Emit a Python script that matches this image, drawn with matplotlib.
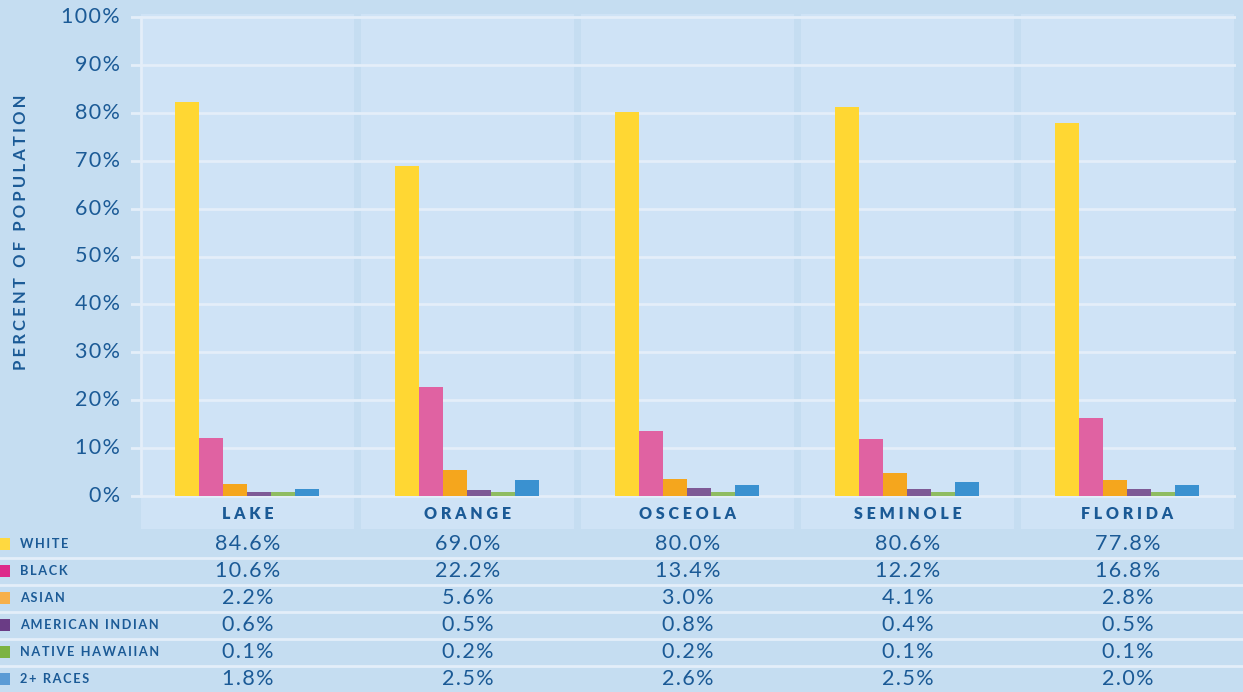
import matplotlib
matplotlib.use("Agg")
import matplotlib.pyplot as plt
from matplotlib.patches import Rectangle

# data
counties = ["LAKE", "ORANGE", "OSCEOLA", "SEMINOLE", "FLORIDA"]
races = ["WHITE", "BLACK", "ASIAN", "AMERICAN INDIAN", "NATIVE HAWAIIAN", "2+ RACES"]

# bar heights as drawn (percent)
white_bar = [82.3, 68.9, 80.2, 81.2, 77.9]
black_bar = [12.1, 22.8, 13.6, 11.9, 16.3]
asian_bar = [2.5, 5.4, 3.5, 4.8, 3.3]
amind_bar = [0.8, 1.2, 1.7, 1.5, 1.5]
hawaii_bar = [0.8, 0.8, 0.8, 0.8, 0.8]
multi_bar = [1.5, 3.3, 2.3, 2.9, 2.3]

# table values
white_tbl = ["84.6%", "69.0%", "80.0%", "80.6%", "77.8%"]
black_tbl = ["10.6%", "22.2%", "13.4%", "12.2%", "16.8%"]
asian_tbl = ["2.2%", "5.6%", "3.0%", "4.1%", "2.8%"]
amind_tbl = ["0.6%", "0.5%", "0.8%", "0.4%", "0.5%"]
hawaii_tbl = ["0.1%", "0.2%", "0.2%", "0.1%", "0.1%"]
multi_tbl = ["1.8%", "2.5%", "2.6%", "2.5%", "2.0%"]

yticks = list(range(0, 101, 10))

bars = [white_bar, black_bar, asian_bar, amind_bar, hawaii_bar, multi_bar]
tables = [white_tbl, black_tbl, asian_tbl, amind_tbl, hawaii_tbl, multi_tbl]
bar_colors = ["#ffd733", "#e062a2", "#f5a61d", "#7e5a96", "#8fbc62", "#3a91d0"]
key_colors = ["#ffd940", "#dd2a8a", "#f7b04a", "#6a3c85", "#7cb342", "#5b9bd5"]

BG = "#c5ddf1"
PANEL = "#cfe3f6"
GRID = "#e4eef9"
TXT = "#1b5a96"
FONT = ["Lato", "DejaVu Sans"]

W, H = 1243, 692
fig = plt.figure(figsize=(W / 100, H / 100), dpi=100, facecolor=BG)


def fx(px):
    return px / W


def fy(py):
    return 1 - py / H


def spaced(s, sp="\u200a"):
    return sp.join(s)


# axes placed in pixel terms
left, right, top, bottom = 131, 1236, 14, 529
ax = fig.add_axes([fx(left), fy(bottom), fx(right - left), (bottom - top) / H])
ax.set_facecolor(BG)
ppu = 4.79  # pixels per percent
x0, xs = 247.5, 220.0
ax.set_xlim((left - x0) / xs, (right - x0) / xs)
ax.set_ylim(-(bottom - 496) / ppu, 100 + (496 - 17 - 100 * ppu + 3) / ppu)
for s in ax.spines.values():
    s.set_visible(False)
ax.set_xticks([])
ax.set_yticks([])

ylo = ax.get_ylim()[0]
half = 213 / xs / 2
for i in range(len(counties)):
    ax.add_patch(Rectangle((i - half, ylo), 2 * half, 100.6 - ylo,
                           facecolor=PANEL, edgecolor="none", zorder=0))

for t in yticks:
    ax.axhline(t, color=GRID, lw=2, zorder=1)
ax.plot([-half, -half], [0, 100], color=GRID, lw=2, zorder=1)

bw = 24 / xs
shift = -1 / xs
for j, (vals, c) in enumerate(zip(bars, bar_colors)):
    xs_ = [i + (j - 2.5) * bw + shift for i in range(len(counties))]
    ax.bar(xs_, vals, width=bw, color=c, zorder=2, linewidth=0)

for i, name in enumerate(counties):
    ax.text(i, -3.8, spaced(name, " "), ha="center", va="center",
            fontsize=11.5, fontweight="heavy", color=TXT, family=FONT)

# y tick labels
for t in yticks:
    fig.text(fx(120), fy(496 - t * ppu), spaced(f"{t}%"), ha="right", va="center",
             fontsize=15.5, color=TXT, family=FONT)

fig.text(fx(21), fy(232), spaced("PERCENT OF POPULATION", "\u2009\u200a"), rotation=90,
         ha="center", va="center", fontsize=12, fontweight="bold", color=TXT, family=FONT)

# table
row_y = [544, 571, 598, 625, 652, 679]
for k in range(5):
    yy = (row_y[k] + row_y[k + 1]) / 2 + 0.5
    fig.add_artist(plt.Line2D([0, 1], [fy(yy), fy(yy)], color=GRID, lw=2,
                              transform=fig.transFigure))

for r, (label, col, vals) in enumerate(zip(races, key_colors, tables)):
    yy = row_y[r]
    fig.add_artist(Rectangle((fx(-1), fy(yy + 6)), fx(11), 12 / H,
                             facecolor=col, edgecolor="none", transform=fig.transFigure))
    fig.text(fx(20), fy(yy), spaced(label, "\u2009"), ha="left", va="center",
             fontsize=9.2, fontweight="bold", color=TXT, family=FONT)
    for i, v in enumerate(vals):
        fig.text(fx(x0 + i * xs), fy(yy), spaced(v), ha="center", va="center",
                 fontsize=15.5, color=TXT, family=FONT)

fig.savefig("out.png", dpi=100, facecolor=BG)
